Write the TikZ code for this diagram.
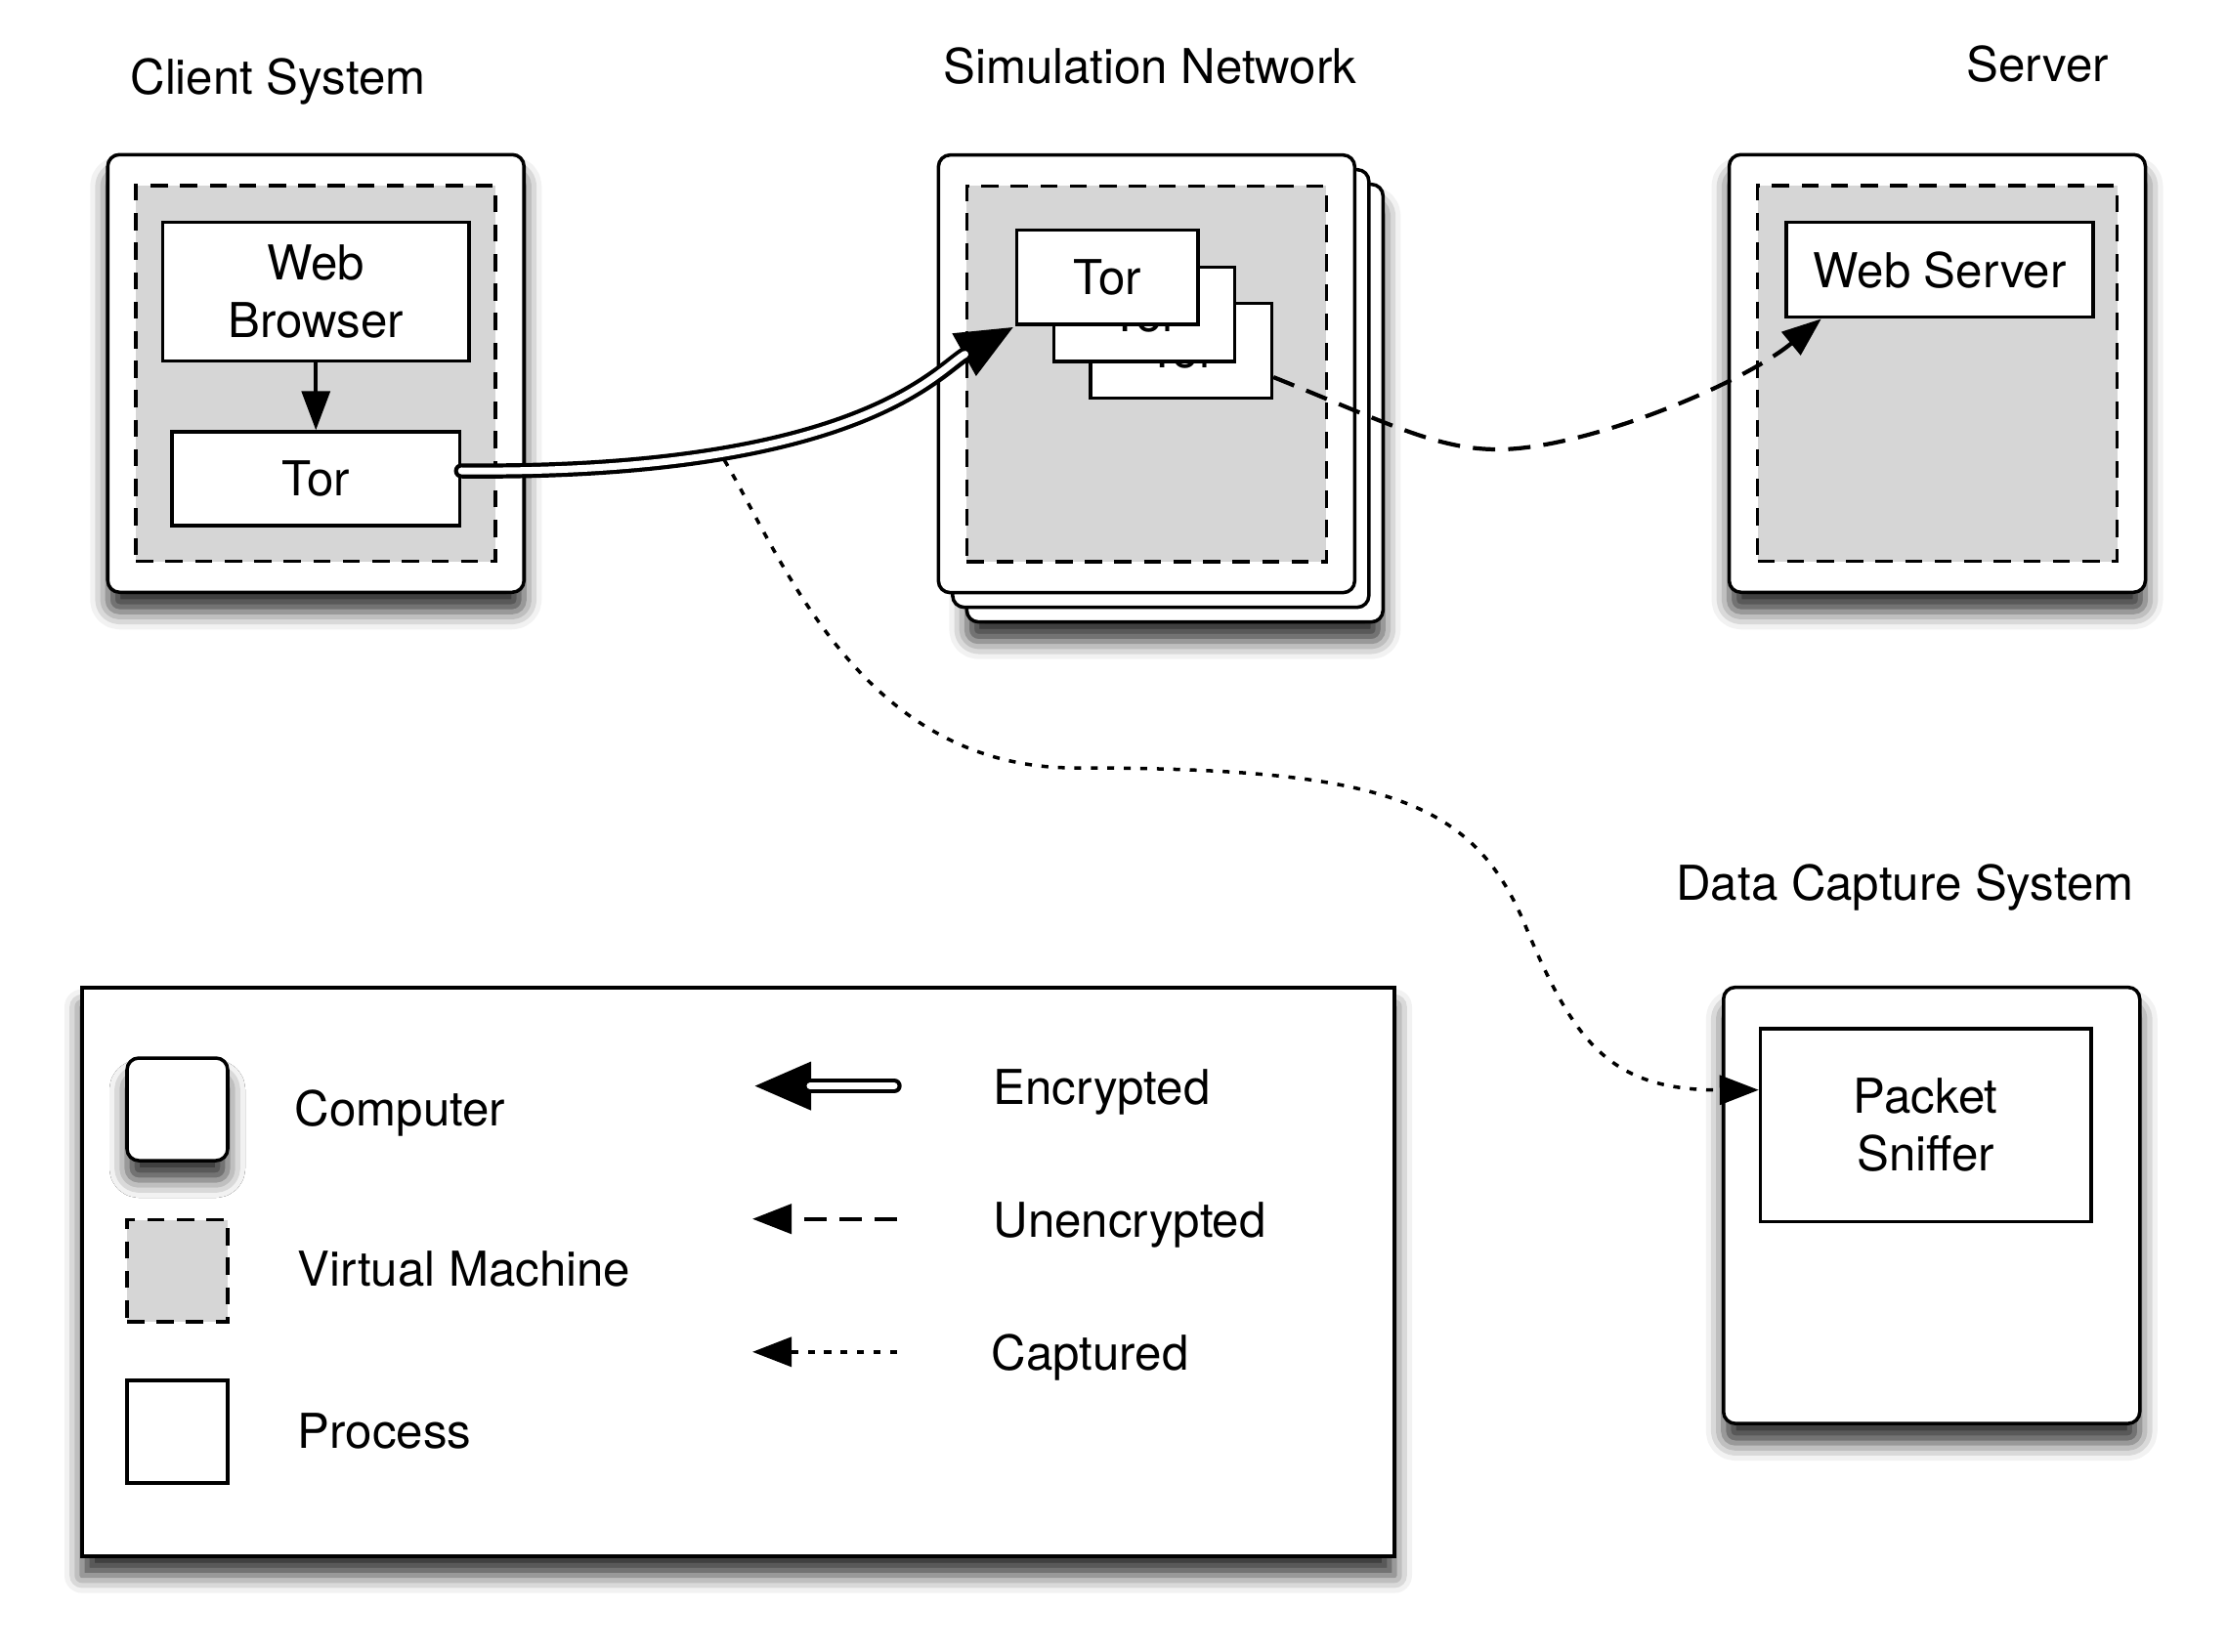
\documentclass[tikz,border=0pt]{standalone}
\usepackage{fontspec}
\setmainfont{TeX Gyre Heros}
\usetikzlibrary{shapes}
\usetikzlibrary{arrows.meta}
\usetikzlibrary{shadows.blur}
\usetikzlibrary{calc}
\definecolor{vmgray}{RGB}{214,214,214}

\begin{document}
\begin{tikzpicture}
	\tikzstyle{every node}=[font=\fontsize{14}{16.8}\selectfont, inner sep=0pt]
	\tikzstyle{computer}=[rectangle, draw, line width=1pt, fill=white, rounded corners=1.2mm, minimum width=4.26cm, minimum height=4.48cm]
	\tikzstyle{dropshade}=[blur shadow={shadow xshift=0mm, shadow yshift=-2mm, shadow blur radius=1.8mm, shadow opacity=80}]
	\tikzstyle{vm}=[rectangle, draw, line width=1pt, fill=vmgray, dash pattern=on 5pt off 3.6pt, minimum width=3.68cm, minimum height=3.845cm]
	\tikzstyle{proc}=[rectangle, draw, line width=1pt, fill=white, align=center]
	\tikzstyle{title}=[anchor=base]
	\tikzstyle{key}=[anchor=base west]
	\tikzstyle{enc}=[line width=4.4pt, line cap=round, -{Triangle[length=6mm,width=4.5mm]}]
	\tikzstyle{encin}=[white, line width=2pt, line cap=round, shorten >=5.9mm]
	\tikzstyle{unenc}=[line width=1.2pt, dash pattern=on 6.5pt off 3.8pt, -{Triangle[length=4mm,width=3mm]}]
	\tikzstyle{capt}=[line width=1pt, dash pattern=on 2pt off 2.8pt, -{Triangle[length=4mm,width=3mm]}]

	\useasboundingbox (0,0) rectangle (22.79,-16.91);

	% client system
	\node[title] (tclient) at (2.845,-0.96) {Client System};
	\node[computer, dropshade] (client) at (3.2325,-3.8225) {};
	\node[vm] (cvm) at (client) {};
	\node[proc, minimum width=3.135cm, minimum height=1.42cm] (browser) at (3.2325,-2.9865) {Web\\Browser};
	\node[proc, minimum width=2.945cm, minimum height=0.96cm] (ctor) at (3.2325,-4.90) {Tor};
	\draw[line width=1pt, -{Triangle[length=4mm,width=2.9mm]}] (browser) -- (ctor);

	% simulation network
	\node[title] (tsim) at (11.77,-0.85) {Simulation Network};
	\node[computer, dropshade] (sim3) at (12.0235,-4.1265) {};
	\node[computer] (sim2) at (11.8785,-3.9765) {};
	\node[computer] (sim1) at (11.7335,-3.8265) {};
	\node[vm] (svm) at (sim1) {};
	\node[proc, minimum width=1.853cm, minimum height=0.967cm] (stor3) at (12.0875,-3.5905) {Tor};
	\node[proc, minimum width=1.853cm, minimum height=0.967cm] (stor2) at (11.7105,-3.2165) {Tor};
	\node[proc, minimum width=1.853cm, minimum height=0.967cm] (stor1) at (11.3335,-2.8365) {Tor};

	% server
	\node[title] (tserver) at (20.855,-0.83) {Server};
	\node[computer, dropshade] (server) at (19.825,-3.8225) {};
	\node[vm] (wvm) at (server) {};
	\node[proc, minimum width=3.14cm, minimum height=0.97cm] (websrv) at (19.85,-2.7615) {Web Server};

	% data capture
	\node[title] (tcap) at (19.495,-9.21) {Data Capture System};
	\node[computer, dropshade, minimum height=4.465cm] (capture) at (19.7675,-12.3385) {};
	\node[proc, minimum width=3.385cm, minimum height=1.975cm] (sniffer) at (19.7075,-11.517) {Packet\\Sniffer};

	% legend
	\node[rectangle, draw, line width=1.2pt, fill=white, dropshade, minimum width=13.43cm, minimum height=5.82cm] (legend) at (7.555,-13.016) {};
	\node[computer, dropshade, minimum width=1.03cm, minimum height=1.05cm] (kcomp) at (1.815,-11.355) {};
	\node[vm, minimum width=1.03cm, minimum height=1.045cm] (kvm) at (1.815,-13.009) {};
	\node[proc, minimum width=1.03cm, minimum height=1.05cm] (kproc) at (1.815,-14.655) {};
	\node[key] (lcomp) at (3.01,-11.52) {Computer};
	\node[key] (lvm) at (3.04,-13.16) {Virtual Machine};
	\node[key] (lproc) at (3.04,-14.82) {Process};
	\node[key] (lenc) at (10.16,-11.30) {Encrypted};
	\node[key] (lunenc) at (10.16,-12.66) {Unencrypted};
	\node[key] (lcapt) at (10.14,-14.02) {Captured};
	\coordinate (enc0) at (9.15,-11.116);
	\coordinate (enc1) at (7.70,-11.116);
	\coordinate (unc0) at (9.18,-12.477);
	\coordinate (unc1) at (7.70,-12.477);
	\coordinate (cap0) at (9.18,-13.838);
	\coordinate (cap1) at (7.70,-13.838);

	% connectors
	\draw[enc] ($(ctor.east)+(0,0.08)$) .. controls (8.8,-4.86) and (9.6,-3.78) .. (stor1.south west) coordinate[pos=0.27] (tap);
	\draw[encin] ($(ctor.east)+(0,0.08)$) .. controls (8.8,-4.86) and (9.6,-3.78) .. (stor1.south west);
	\draw[unenc] ($(stor3.east)+(0,-0.27)$) .. controls (14.2,-4.33) and (14.7,-4.6) .. (15.33,-4.6) .. controls (16.2,-4.6) and (17.8,-3.95) .. ($(websrv.south west)+(0.375,0)$);
	\draw[capt, shorten <=2.2pt] (tap) .. controls (8.0,-5.7) and (8.8,-7.86) .. (11.0,-7.86) .. controls (14.2,-7.86) and (15.09,-8.2) .. (15.62,-9.5) .. controls (16.12,-10.7) and (16.5,-11.16) .. ($(sniffer.west)+(0,0.36)$);

	\draw[enc] (enc0) -- (enc1);
	\draw[encin] (enc0) -- (enc1);
	\draw[unenc] (unc0) -- (unc1);
	\draw[capt] (cap0) -- (cap1);
\end{tikzpicture}
\end{document}
